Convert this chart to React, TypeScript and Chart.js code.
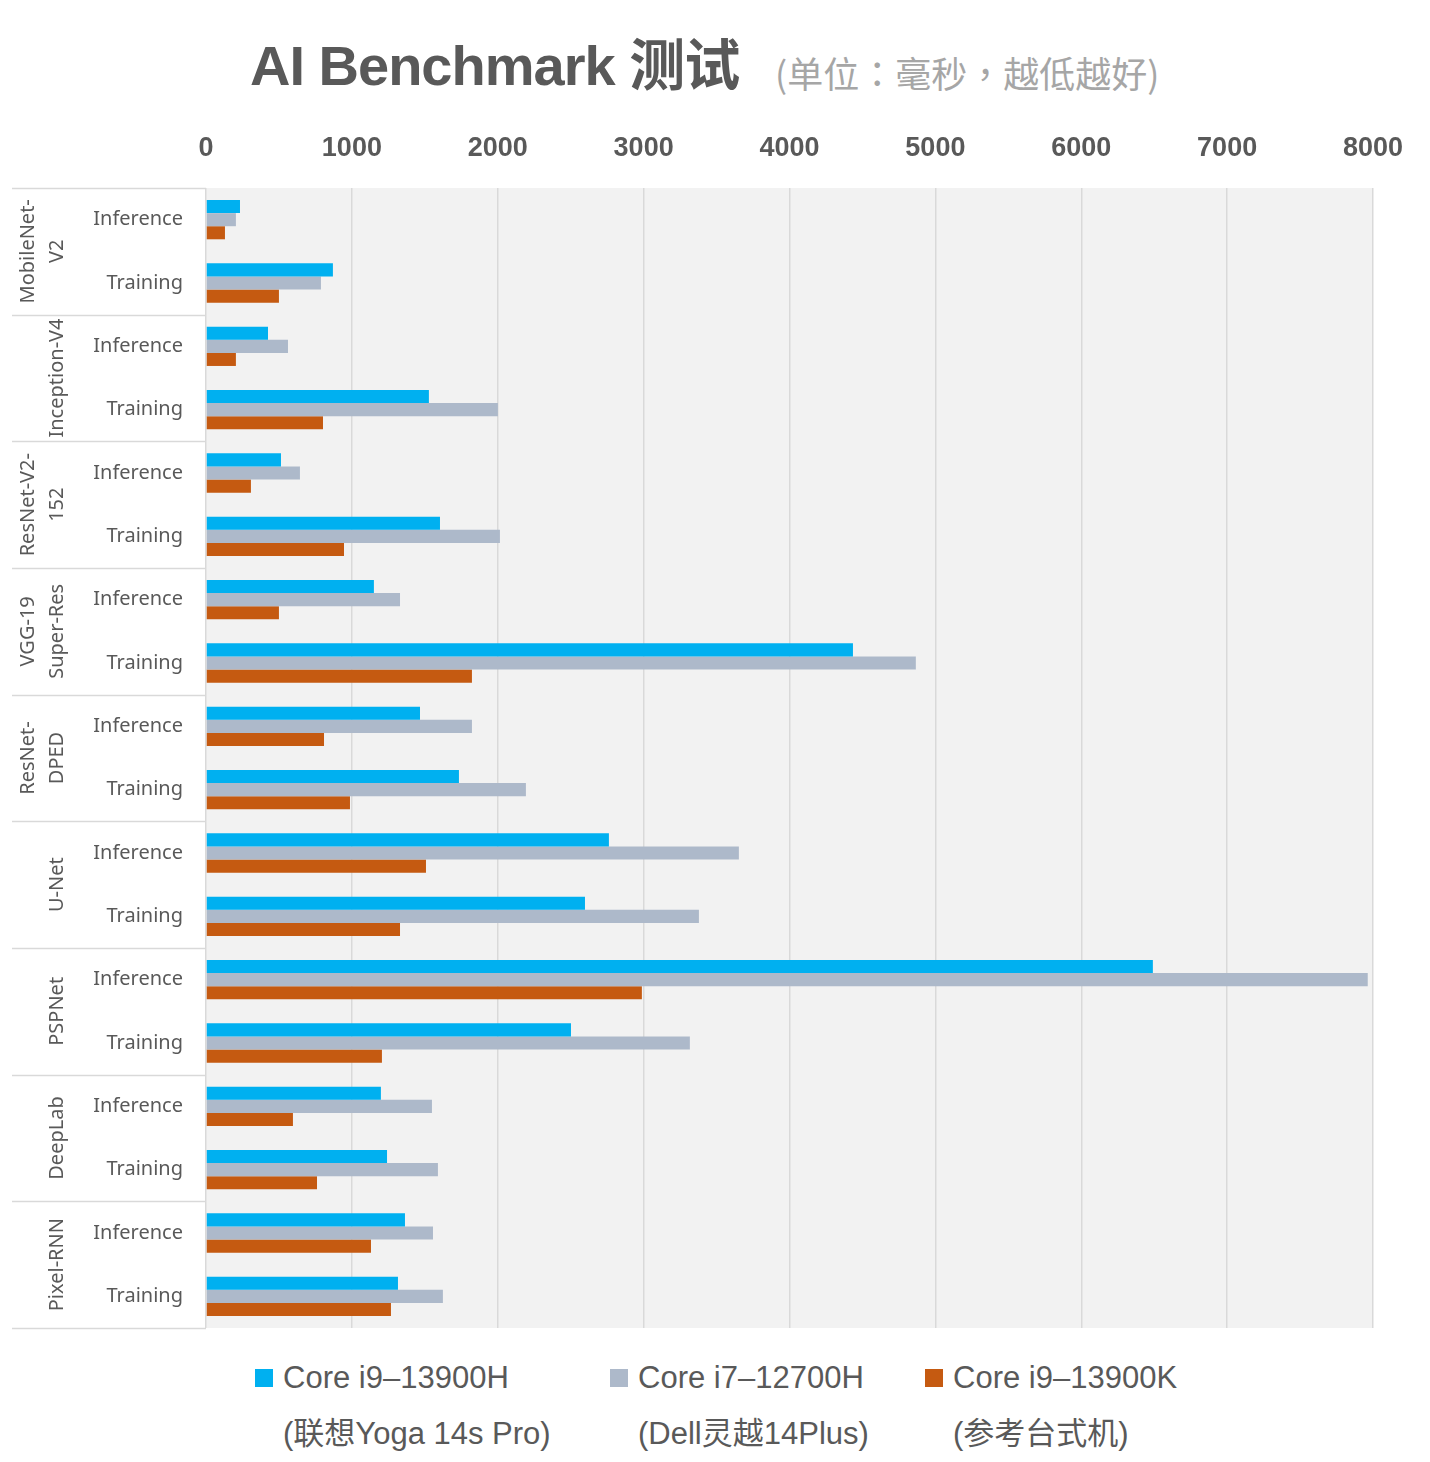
import React, { useEffect, useRef } from 'react';
import { Chart, registerables } from 'chart.js';

Chart.register(...registerables);

// model groups (outer axis labels, split into lines as in the original)
const models: string[][] = [
    ['MobileNet-', 'V2'],
    ['Inception-V4'],
    ['ResNet-V2-', '152'],
    ['VGG-19', 'Super-Res'],
    ['ResNet-', 'DPED'],
    ['U-Net'],
    ['PSPNet'],
    ['DeepLab'],
    ['Pixel-RNN'],
];
const phases = ['Inference', 'Training'];
const categories = models.flatMap(() => phases);

// milliseconds, lower is better
const i9_13900H = [233, 870, 425, 1528, 514, 1604, 1151, 4435, 1467, 1734, 2762, 2598, 6491, 2502, 1199, 1241, 1364, 1316];
const i7_12700H = [205, 788, 562, 2001, 644, 2015, 1330, 4866, 1823, 2193, 3653, 3379, 7964, 3317, 1549, 1590, 1556, 1624];
const i9_13900K = [130, 500, 205, 802, 308, 946, 500, 1823, 809, 987, 1508, 1330, 2988, 1206, 596, 761, 1131, 1268];

const xTicks = [0, 1000, 2000, 3000, 4000, 5000, 6000, 7000, 8000];

const legendItems = [
    { name: 'Core i9–13900H', sub: '(联想Yoga 14s Pro)', color: '#00b0f0', left: 255 },
    { name: 'Core i7–12700H', sub: '(Dell灵越14Plus)', color: '#adb9ca', left: 610 },
    { name: 'Core i9–13900K', sub: '(参考台式机)', color: '#c55a11', left: 925 },
];

const textColor = '#595959';
const lineColor = '#d9d9d9';
const latin = '"Liberation Sans", "Noto Sans CJK SC", sans-serif';

const groupPlugin = {
    id: 'groups',
    beforeDraw(chart: any) {
        const { ctx, chartArea: a } = chart;
        ctx.save();
        ctx.fillStyle = '#f2f2f2';
        ctx.fillRect(a.left, a.top, a.right - a.left, a.bottom - a.top);
        ctx.restore();
    },
    afterDraw(chart: any) {
        const { ctx, chartArea: a } = chart;
        const y = chart.scales.y;
        ctx.save();
        ctx.strokeStyle = lineColor;
        ctx.lineWidth = 1.5;
        for (let i = 0; i <= models.length; i++) {
            const py = Math.round(y.getPixelForValue(i * 2 - 0.5)) + 0.5;
            ctx.beginPath();
            ctx.moveTo(12, py);
            ctx.lineTo(a.left, py);
            ctx.stroke();
        }
        ctx.fillStyle = textColor;
        ctx.font = '20px "Noto Sans", sans-serif';
        ctx.textAlign = 'center';
        ctx.textBaseline = 'middle';
        models.forEach((lines, i) => {
            const cy = y.getPixelForValue(i * 2 + 0.5);
            lines.forEach((txt, j) => {
                const cx = 57 - (lines.length - 1 - j) * 29;
                ctx.save();
                ctx.translate(cx, cy);
                ctx.rotate(-Math.PI / 2);
                ctx.fillText(txt, 0, 0);
                ctx.restore();
            });
        });
        ctx.restore();
    },
};

const App = () => {
    const chartRef = useRef<HTMLCanvasElement>(null);
    const chartInstance = useRef<Chart | null>(null);

    useEffect(() => {
        document.body.style.margin = '0';
        if (!chartRef.current) return;
        const ctx = chartRef.current.getContext('2d');
        if (!ctx) return;
        if (chartInstance.current) chartInstance.current.destroy();

        chartInstance.current = new Chart(ctx, {
            type: 'bar',
            data: {
                labels: categories,
                datasets: [
                    { label: legendItems[0].name, data: i9_13900H, backgroundColor: legendItems[0].color },
                    { label: legendItems[1].name, data: i7_12700H, backgroundColor: legendItems[1].color },
                    { label: legendItems[2].name, data: i9_13900K, backgroundColor: legendItems[2].color },
                ],
            },
            options: {
                indexAxis: 'y',
                animation: false,
                responsive: true,
                maintainAspectRatio: false,
                layout: { padding: { left: 0, right: 57, top: 0, bottom: 12 } },
                datasets: {
                    bar: { categoryPercentage: 0.62, barPercentage: 1 },
                },
                plugins: {
                    legend: { display: false },
                    tooltip: { enabled: false },
                },
                scales: {
                    x: {
                        position: 'top',
                        min: 0,
                        max: 8000,
                        afterFit(scale: any) {
                            scale.height = 78;
                        },
                        afterBuildTicks(scale: any) {
                            scale.ticks = xTicks.map((v) => ({ value: v }));
                        },
                        grid: { color: lineColor, lineWidth: 1.5, drawTicks: false },
                        border: { display: false },
                        ticks: {
                            padding: 23,
                            color: textColor,
                            font: { family: latin, size: 27, weight: 'bold' },
                            callback: (v: any) => String(v),
                        },
                    },
                    y: {
                        afterFit(scale: any) {
                            scale.width = 206;
                        },
                        grid: { display: false },
                        border: { display: false },
                        ticks: {
                            padding: 15,
                            color: textColor,
                            font: { family: '"Noto Sans", sans-serif', size: 20 },
                        },
                    },
                },
            },
            plugins: [groupPlugin],
        } as any);

        return () => {
            if (chartInstance.current) {
                chartInstance.current.destroy();
                chartInstance.current = null;
            }
        };
    }, []);

    return (
        <div style={{ position: 'relative', width: 1430, height: 1462, background: '#fff', overflow: 'hidden' }}>
            <div
                style={{
                    position: 'absolute', left: 250, top: 38, fontFamily: latin, fontWeight: 'bold',
                    fontSize: 56, lineHeight: '56px', letterSpacing: '-1px', color: textColor, whiteSpace: 'nowrap',
                }}
            >
                AI Benchmark 测试
            </div>
            <div
                style={{
                    position: 'absolute', left: 775, top: 50, fontFamily: '"Noto Sans CJK TC", sans-serif',
                    fontSize: 36, lineHeight: '44px', color: '#a6a6a6', whiteSpace: 'nowrap',
                }}
            >
                (单位：毫秒，越低越好)
            </div>
            <div style={{ position: 'absolute', left: 0, top: 110, width: 1430, height: 1245 }}>
                <canvas ref={chartRef}></canvas>
            </div>
            {legendItems.map((item) => (
                <div key={item.name} style={{ position: 'absolute', left: item.left, top: 1356, color: textColor, fontFamily: latin, fontSize: 31 }}>
                    <div style={{ display: 'flex', alignItems: 'center', height: 44 }}>
                        <span style={{ display: 'inline-block', width: 18, height: 18, background: item.color, marginRight: 10 }}></span>
                        <span style={{ whiteSpace: 'nowrap' }}>{item.name}</span>
                    </div>
                    <div style={{ marginLeft: 28, marginTop: 12, height: 44, lineHeight: '44px', whiteSpace: 'nowrap' }}>{item.sub}</div>
                </div>
            ))}
        </div>
    );
};

export default App;
